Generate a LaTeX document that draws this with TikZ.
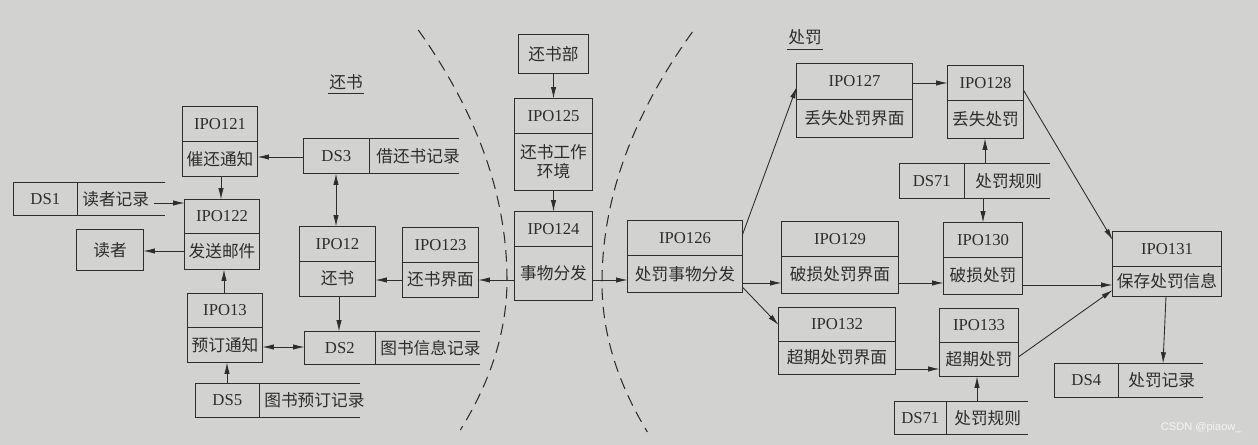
\documentclass[tikz,border=0pt]{standalone}
\usepackage{fontspec}
\setmainfont{Liberation Serif}
\newfontfamily\cjk{Noto Sans CJK SC}
\newfontfamily\wmfont{Liberation Sans}
\usetikzlibrary{arrows.meta,fit,calc}
\definecolor{paper}{RGB}{210,210,208}
\definecolor{ink}{RGB}{45,45,45}
\tikzset{
  boxline/.style={draw=ink, line width=0.55pt},
  txt/.style={text=ink, font=\fontsize{9.5}{11}\selectfont, inner sep=0pt, align=center},
  cjktxt/.style={text=ink, font=\cjk\fontsize{9.5}{11}\selectfont, inner sep=0pt, align=center},
  arr/.style={draw=ink, line width=0.5pt, -{Latex[length=6.5pt,width=3pt]}},
  darr/.style={draw=ink, line width=0.5pt, {Latex[length=6.5pt,width=3pt]}-{Latex[length=6.5pt,width=3pt]}},
  sepline/.style={draw=ink, line width=0.6pt, dash pattern=on 6.5pt off 4pt},
}
% IPO box: name, x1, y1, x2, y2, ydiv, id, text
\newcommand\ipobox[8]{%
  \node[fit={(#2,#3) (#4,#5)}, inner sep=0pt] (#1) {};
  \draw[boxline] (#1.north west) rectangle (#1.south east);
  \draw[boxline] (#1.west |- 0,#6) -- (#1.east |- 0,#6);
  \node[txt] (#1-id) at ($(#1.north)!0.5!(#1.north |- 0,#6)$) {#7};
  \node[cjktxt] (#1-name) at ($(#1.south)!0.5!(#1.south |- 0,#6)$) {#8};
}
% data store: name, x1, y1, x2, y2, xdiv, id, text, text offset
\newcommand\dsbox[9]{%
  \node[fit={(#2,#3) (#4,#5)}, inner sep=0pt] (#1) {};
  \draw[boxline] (#1.north east) -- (#1.north west) -- (#1.south west) -- (#1.south east);
  \draw[boxline] (#6,0 |- #1.north) -- (#6,0 |- #1.south);
  \node[txt] (#1-id) at ($(#1.west)!0.5!(#6,0 |- #1.west)$) {#7};
  \node[cjktxt, anchor=west] (#1-name) at ($(#6,0 |- #1.west)+(#9,0)$) {#8};
}
\begin{document}
\begin{tikzpicture}[x=0.02cm, y=-0.02cm]
\fill[paper] (0,0) rectangle (1258,445);
\useasboundingbox (0,0) rectangle (1258,445);

% dashed separators
\draw[sepline] plot[domain=30:280, samples=40] ({507-0.001424*(\x-280)*(\x-280)}, \x)
  -- plot[domain=280:430, samples=30] ({507-0.00208*(\x-280)*(\x-280)}, \x);
\draw[sepline] plot[domain=32:283, samples=40] ({602+0.00144*(\x-283)*(\x-283)}, \x)
  -- plot[domain=283:432, samples=30] ({602+0.00205*(\x-283)*(\x-283)}, \x);

% section labels
\node[cjktxt] (lbl1) at (346,82) {还书};
\draw[boxline, line width=0.5pt] ($(lbl1.south west)+(-1,3)$) -- ($(lbl1.south east)+(1,3)$);
\node[cjktxt] (lbl2) at (805,37) {处罚};
\draw[boxline, line width=0.5pt] ($(lbl2.south west)+(-1,4)$) -- ($(lbl2.south east)+(1,4)$);

% IPO boxes
\ipobox{ipo121}{183}{107}{257}{176}{141}{IPO121}{催还通知}
\ipobox{ipo122}{185}{200}{259}{269}{233}{IPO122}{发送邮件}
\ipobox{ipo13}{188}{294}{262}{362}{327}{IPO13}{预订通知}
\ipobox{ipo12}{300}{227}{375}{296}{261}{IPO12}{还书}
\ipobox{ipo123}{403}{228}{478}{297}{262}{IPO123}{还书界面}
\ipobox{ipo125}{515}{99}{592}{190}{133}{IPO125}{还书工作\\环境}
\ipobox{ipo124}{515}{212}{592}{300}{246}{IPO124}{事物分发}
\ipobox{ipo126}{628}{221}{742}{292}{255}{IPO126}{处罚事物分发}
\ipobox{ipo127}{797}{64}{912}{137}{99}{IPO127}{丢失处罚界面}
\ipobox{ipo128}{948}{66}{1023}{138}{100}{IPO128}{丢失处罚}
\ipobox{ipo129}{782}{222}{898}{293}{256}{IPO129}{破损处罚界面}
\ipobox{ipo130}{944}{223}{1022}{294}{257}{IPO130}{破损处罚}
\ipobox{ipo131}{1113}{232}{1221}{296}{266}{IPO131}{保存处罚信息}
\ipobox{ipo132}{779}{308}{895}{374}{341}{IPO132}{超期处罚界面}
\ipobox{ipo133}{940}{309}{1018}{376}{342}{IPO133}{超期处罚}

% plain boxes
\node[fit={(77,230) (143,270)}, inner sep=0pt] (reader) {};
\draw[boxline] (reader.north west) rectangle (reader.south east);
\node[cjktxt] (reader-t) at (reader.center) {读者};
\node[fit={(519,35) (588,73)}, inner sep=0pt] (dept) {};
\draw[boxline] (dept.north west) rectangle (dept.south east);
\node[cjktxt] (dept-t) at (dept.center) {还书部};

% data stores
\dsbox{ds1}{14}{183}{165}{215}{77}{DS1}{读者记录}{5}
\dsbox{ds3}{304}{139}{459}{173}{369}{DS3}{借还书记录}{7}
\dsbox{ds2}{305}{332}{480}{364}{375}{DS2}{图书信息记录}{5}
\dsbox{ds5}{196}{384}{360}{417}{259}{DS5}{图书预订记录}{5}
\dsbox{ds71a}{900}{164}{1050}{198}{964}{DS71}{处罚规则}{11}
\dsbox{ds71b}{895}{402}{1028}{434}{946}{DS71}{处罚规则}{8}
\dsbox{ds4}{1055}{364}{1203}{397}{1118}{DS4}{处罚记录}{10}

% connectors
\draw[arr] (ds3.west |- 0,157) -- (ipo121.east |- 0,157);
\draw[arr] (ipo121.south -| 221,0) -- (ipo122.north -| 221,0);
\draw[arr] (ds1-name.east |- 0,203) ++(5,0) -- (ipo122.west |- 0,203);
\draw[arr] (ipo122.west |- 0,251) -- (reader.east |- 0,251);
\draw[arr] (ipo13.north -| 224,0) -- (ipo122.south -| 224,0);
\draw[darr] (ipo13.east |- 0,347) -- (ds2.west |- 0,347);
\draw[arr] (ds5.north -| 227,0) -- (ipo13.south -| 227,0);
\draw[darr] (ds3.south -| 336,0) -- (ipo12.north -| 336,0);
\draw[arr] (ipo12.south -| 339,0) -- (ds2.north -| 339,0);
\draw[arr] (ipo123.west |- 0,280) -- (ipo12.east |- 0,280);
\draw[arr] (ipo124.west |- 0,280) -- (ipo123.east |- 0,280);
\draw[arr] (dept.south) -- (ipo125.north);
\draw[arr] (ipo125.south) -- (ipo124.north);
\draw[arr] (ipo124.east |- 0,280) -- (ipo126.west |- 0,280);
\draw[arr] (ipo126.east |- 0,235) -- (ipo127.west |- 0,87);
\draw[arr] (ipo126.east |- 0,283) -- (ipo129.west |- 0,283);
\draw[arr] (ipo126.east |- 0,287) -- (ipo132.west |- 0,325);
\draw[arr] (ipo127.east |- 0,83) -- (ipo128.west |- 0,83);
\draw[arr] (ds71a.north -| 985,0) -- (ipo128.south -| 985,0);
\draw[arr] (ds71a.south -| 983,0) -- (ipo130.north -| 983,0);
\draw[arr] (ipo129.east |- 0,283) -- (ipo130.west |- 0,283);
\draw[arr] (ipo130.east |- 0,285) -- (ipo131.west |- 0,285);
\draw[arr] (ipo128.east |- 0,90) -- (ipo131.west |- 0,240);
\draw[arr] (ipo132.east |- 0,369) -- (ipo133.west |- 0,369);
\draw[arr] (ipo133.east |- 0,357) -- (ipo131.west |- 0,290);
\draw[arr] (ds71b.north -| 977,0) -- (ipo133.south -| 977,0);
\draw[arr] (ipo131.south -| 1166,0) -- (ds4.north -| 1163,0);

% watermark
\node[font=\wmfont\fontsize{6.3}{7.5}\selectfont, text=white!92!gray, anchor=east, inner sep=0pt] (wm) at (1242,428) {CSDN @piaow\_};
\end{tikzpicture}
\end{document}
